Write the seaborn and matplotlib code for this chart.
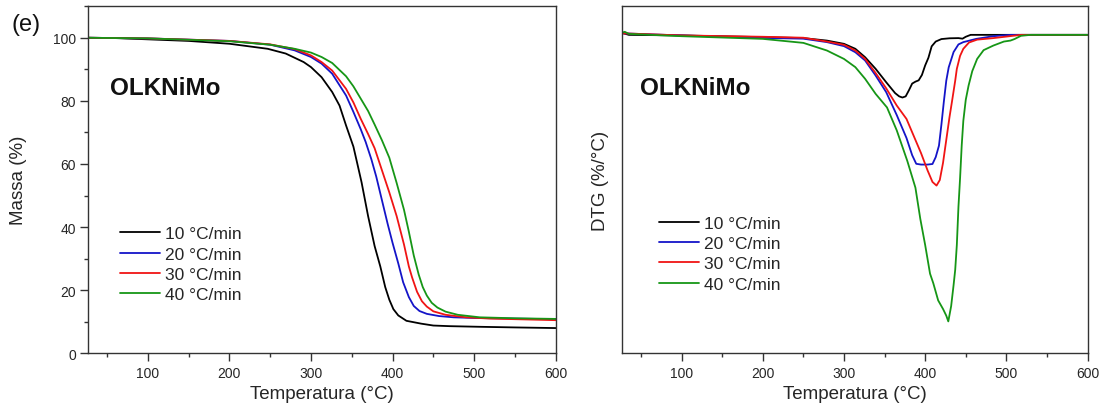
import numpy as np
import pandas as pd
import matplotlib
matplotlib.use("Agg")
import matplotlib.pyplot as plt
from matplotlib.ticker import MultipleLocator
import seaborn as sns

# ---- TGA: mass (%) vs temperature (°C) ----
tga10_T = [27, 60, 100, 150, 200, 247, 269, 291, 300, 313, 326, 335, 343, 352, 356, 362, 370, 378, 385, 391, 396, 401, 407, 417, 435, 450, 470, 507, 550, 600]
tga10_m = [100, 99.9, 99.5, 99.0, 98.1, 96.5, 95.0, 92.3, 90.7, 87.5, 82.8, 78.5, 72.2, 65.5, 61.0, 54.2, 43.5, 34.0, 27.5, 21.0, 17.0, 14.0, 12.0, 10.3, 9.4, 8.8, 8.6, 8.4, 8.2, 8.0]

tga20_T = [27, 100, 200, 250, 280, 300, 313, 326, 343, 352, 361, 367, 374, 380, 387, 394, 400, 407, 413, 420, 426, 433, 442, 457, 475, 500, 550, 600]
tga20_m = [100, 99.8, 99.0, 97.8, 96.0, 93.9, 91.8, 88.6, 81.7, 76.5, 71.0, 67.0, 61.5, 56.0, 48.5, 41.0, 35.0, 28.5, 22.5, 17.8, 15.0, 13.4, 12.5, 11.8, 11.4, 11.2, 11.0, 10.8]

tga30_T = [27, 100, 200, 250, 280, 300, 313, 326, 343, 352, 361, 370, 378, 387, 396, 405, 414, 420, 424, 430, 436, 442, 450, 465, 490, 520, 600]
tga30_m = [100, 99.8, 99.0, 97.9, 96.4, 94.4, 92.3, 89.6, 83.8, 79.5, 74.3, 69.5, 65.0, 58.0, 51.0, 43.5, 34.5, 27.5, 24.0, 19.5, 16.5, 14.8, 13.3, 12.2, 11.4, 11.0, 10.5]

tga40_T = [27, 100, 200, 250, 280, 300, 313, 326, 343, 352, 361, 370, 378, 387, 396, 405, 414, 420, 426, 432, 437, 442, 448, 455, 465, 480, 507, 550, 600]
tga40_m = [100, 99.8, 98.9, 97.8, 96.5, 95.3, 93.9, 92.0, 87.8, 84.6, 80.7, 76.8, 72.5, 67.5, 62.0, 54.0, 45.5, 38.5, 31.0, 25.0, 21.0, 18.3, 16.0, 14.5, 13.2, 12.2, 11.4, 11.1, 10.9]

# ---- DTG (%/°C) vs temperature (°C) ----
dtg10_T = [27, 35, 100, 200, 250, 279, 300, 314, 326, 339, 352, 363, 368, 372, 376, 380, 384, 388, 392, 396, 400, 404, 408, 413, 420, 430, 441, 446, 450, 456, 600]
dtg10_v = [0.01, 0.0, -0.003, -0.012, -0.017, -0.03, -0.047, -0.073, -0.117, -0.178, -0.248, -0.305, -0.322, -0.328, -0.322, -0.29, -0.255, -0.245, -0.238, -0.21, -0.16, -0.12, -0.06, -0.035, -0.022, -0.018, -0.017, -0.02, -0.01, 0.0, 0.0]

dtg20_T = [27, 100, 200, 250, 279, 300, 314, 326, 339, 352, 365, 369, 377, 384, 389, 395, 403, 409, 413, 417, 420, 423, 426, 429, 435, 441, 447, 463, 484, 505, 600]
dtg20_v = [0.008, -0.003, -0.016, -0.02, -0.038, -0.059, -0.091, -0.134, -0.213, -0.30, -0.42, -0.46, -0.54, -0.63, -0.675, -0.679, -0.679, -0.676, -0.64, -0.58, -0.47, -0.35, -0.24, -0.17, -0.09, -0.05, -0.038, -0.021, -0.007, 0.0, 0.0]

dtg30_T = [27, 100, 200, 250, 279, 300, 314, 326, 339, 352, 365, 377, 386, 395, 403, 409, 414, 418, 422, 426, 430, 433, 437, 439, 443, 447, 454, 464, 484, 518, 600]
dtg30_v = [0.008, -0.003, -0.01, -0.015, -0.035, -0.052, -0.082, -0.126, -0.2, -0.28, -0.37, -0.44, -0.53, -0.62, -0.71, -0.77, -0.789, -0.76, -0.67, -0.55, -0.43, -0.35, -0.24, -0.178, -0.11, -0.073, -0.04, -0.025, -0.017, 0.0, 0.0]

dtg40_T = [27, 30, 35, 100, 200, 250, 279, 300, 314, 326, 339, 353, 365, 378, 388, 394, 400, 406, 410, 416, 422, 426, 428.5, 432, 435, 437, 439, 441, 443, 445, 447, 450, 453.5, 458, 464, 472, 484, 497, 505, 510, 518, 530, 600]
dtg40_v = [0.012, 0.016, 0.005, -0.007, -0.021, -0.042, -0.082, -0.126, -0.169, -0.23, -0.309, -0.38, -0.5, -0.66, -0.80, -0.963, -1.1, -1.25, -1.30, -1.39, -1.435, -1.47, -1.50, -1.42, -1.31, -1.23, -1.1, -0.9, -0.75, -0.58, -0.45, -0.34, -0.265, -0.19, -0.126, -0.08, -0.056, -0.035, -0.03, -0.022, -0.005, 0.0, 0.0]

rates = ["10 °C/min", "20 °C/min", "30 °C/min", "40 °C/min"]
colors = ["#000000", "#1414c8", "#f01414", "#169616"]

tga = pd.concat([
    pd.DataFrame({"T": t, "v": v, "rate": r})
    for t, v, r in zip([tga10_T, tga20_T, tga30_T, tga40_T],
                       [tga10_m, tga20_m, tga30_m, tga40_m], rates)
], ignore_index=True)
dtg = pd.concat([
    pd.DataFrame({"T": t, "v": v, "rate": r})
    for t, v, r in zip([dtg10_T, dtg20_T, dtg30_T, dtg40_T],
                       [dtg10_v, dtg20_v, dtg30_v, dtg40_v], rates)
], ignore_index=True)

sns.set_theme(style="ticks")
plt.rcParams["font.family"] = ["Liberation Sans", "DejaVu Sans"]
ink = "#262626"

fig = plt.figure(figsize=(11.05, 4.14), dpi=100)
axL = fig.add_axes([0.0799, 0.1442, 0.4230, 0.8384])
axR = fig.add_axes([0.5632, 0.1442, 0.4210, 0.8384])

palette = dict(zip(rates, colors))
for ax, df in ((axL, tga), (axR, dtg)):
    sns.lineplot(data=df, x="T", y="v", hue="rate", hue_order=rates,
                 palette=palette, sort=False, estimator=None,
                 linewidth=1.3, ax=ax)
    ax.set_xlim(27, 600)
    ax.xaxis.set_major_locator(MultipleLocator(100))
    ax.xaxis.set_minor_locator(MultipleLocator(50))
    ax.set_xticks([100, 200, 300, 400, 500, 600])
    ax.set_xlabel("Temperatura (°C)", fontsize=13.5, color=ink)
    ax.xaxis.set_label_coords(0.5, -0.116)
    ax.xaxis.label.set_va("center")
    for s in ax.spines.values():
        s.set_visible(True)
        s.set_linewidth(1.0)
        s.set_color("#333333")
    ax.tick_params(which="major", direction="out", length=5.5, width=1.0,
                   color="#333333", labelsize=10, labelcolor=ink)
    ax.tick_params(which="minor", direction="out", length=3, width=1.0,
                   color="#333333")
    ax.text(0.046 if ax is axL else 0.038, 0.767, "OLKNiMo",
            transform=ax.transAxes, fontsize=17.5, fontweight="bold",
            va="center", ha="left", color="#111111")
    leg = ax.legend(loc="upper left",
                    bbox_to_anchor=(0.067, 0.366) if ax is axL else (0.079, 0.397),
                    frameon=False, fontsize=12.5, handlelength=2.3,
                    handletextpad=0.3, labelspacing=0.3,
                    borderpad=0, borderaxespad=0)
    for t in leg.get_texts():
        t.set_color(ink)

axL.set_ylim(0, 110)
axL.yaxis.set_major_locator(MultipleLocator(20))
axL.yaxis.set_minor_locator(MultipleLocator(10))
axL.set_yticks([0, 20, 40, 60, 80, 100])
axL.set_ylabel("Massa (%)", fontsize=13.5, color=ink)
axL.yaxis.set_label_coords(-0.150, 0.5)
axL.yaxis.label.set_va("center")

axR.set_ylim(-1.667, 0.150)
axR.set_yticks([])
axR.yaxis.set_minor_locator(plt.NullLocator())
axR.set_ylabel("DTG (%/°C)", fontsize=13.5, color=ink)
axR.yaxis.set_label_coords(-0.048, 0.5)
axR.yaxis.label.set_va("center")

fig.text(0.010, 0.94, "(e)", fontsize=17, va="center", ha="left", color="#111111")

fig.savefig("out.png", dpi=100)
